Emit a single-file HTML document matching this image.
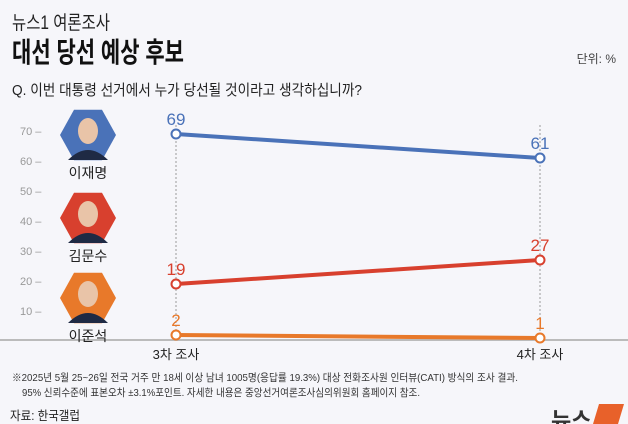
<!DOCTYPE html>
<html><head><meta charset="utf-8"><style>
body{margin:0;width:628px;height:424px;background:#f6f6fa;overflow:hidden;font-family:"Liberation Sans","Noto Sans CJK KR",sans-serif}
svg{display:block}
</style></head><body>
<svg width="628" height="424">
<text x="12" y="29" font-size="19" fill="#222" textLength="98" lengthAdjust="spacingAndGlyphs">뉴스1 여론조사</text>
<text x="12" y="62" font-size="28" font-weight="bold" fill="#111" textLength="172" lengthAdjust="spacingAndGlyphs">대선 당선 예상 후보</text>
<text x="616" y="63" font-size="12" fill="#444" text-anchor="end">단위: %</text>
<text x="12" y="95" font-size="15" fill="#222" textLength="350" lengthAdjust="spacingAndGlyphs">Q. 이번 대통령 선거에서 누가 당선될 것이라고 생각하십니까?</text>
<g id="axis"></g>
<g id="cands"></g>
<g id="plot"></g>
<text x="176" y="359" font-size="13" fill="#222" text-anchor="middle">3차 조사</text>
<text x="540" y="359" font-size="13" fill="#222" text-anchor="middle">4차 조사</text>
<text x="12" y="381" font-size="10.5" fill="#333" textLength="506" lengthAdjust="spacingAndGlyphs">※2025년 5월 25~26일 전국 거주 만 18세 이상 남녀 1005명(응답률 19.3%) 대상 전화조사원 인터뷰(CATI) 방식의 조사 결과.</text>
<text x="22" y="396" font-size="10.5" fill="#333" textLength="398" lengthAdjust="spacingAndGlyphs">95% 신뢰수준에 표본오차 ±3.1%포인트. 자세한 내용은 중앙선거여론조사심의위원회 홈페이지 참조.</text>
<text x="10" y="420" font-size="12.5" fill="#222" textLength="70" lengthAdjust="spacingAndGlyphs">자료: 한국갤럽</text>
<text x="551" y="428" font-size="22" font-weight="bold" fill="#333">뉴스</text>
<path d="M599 404 L624 404 L618 424 L593 424 Z" fill="#e8612a"/>
</svg>
<script>
const categories=["3차 조사","4차 조사"];
const names=["이재명","김문수","이준석"];
const colors=["#4a72b8","#d8402e","#e8792a"];
const series=[[69,61],[19,27],[2,1]];
const ticks=[10,20,30,40,50,60,70];
const NS="http://www.w3.org/2000/svg";
function mk(t,a,p){const e=document.createElementNS(NS,t);for(const k in a)e.setAttribute(k,a[k]);p.appendChild(e);return e;}
const xs=i=>176+i*364, ys=v=>341-v*3;
const ax=document.getElementById('axis'),pl=document.getElementById('plot'),cd=document.getElementById('cands');
ticks.forEach(t=>{const e=mk('text',{x:20,y:ys(t)+4,'font-size':11,fill:'#999'},ax);e.textContent=t+' –';

});
const bl=mk('line',{x1:0,x2:628,y1:340,y2:340,stroke:'#bbb','stroke-width':2},ax);


categories.forEach((c,i)=>{const l=mk('line',{x1:xs(i),x2:xs(i),y1:125,y2:340,stroke:'#999','stroke-dasharray':'2,2'},ax);

});
const cy=[135,218,298];
names.forEach((n,k)=>{const g=mk('g',{},cd);


const x=88,y=cy[k],r=28;
mk('polygon',{points:[[x-r,y],[x-r/2,y-r*0.9],[x+r/2,y-r*0.9],[x+r,y],[x+r/2,y+r*0.9],[x-r/2,y+r*0.9]].map(p=>p.join(',')).join(' '),fill:colors[k]},g);
mk('ellipse',{cx:x,cy:y-4,rx:10,ry:13,fill:'#e9c4a8'},g);
mk('path',{d:`M${x-20} ${y+25} Q${x} ${y+5} ${x+20} ${y+25} Z`,fill:'#1f2a44'},g);
const t=mk('text',{x:x,y:y+43,'font-size':14,'text-anchor':'middle',fill:'#222'},g);t.textContent=n;});
series.forEach((s,k)=>{const g=mk('g',{},pl);


mk('line',{x1:xs(0),y1:ys(s[0]),x2:xs(1),y2:ys(s[1]),stroke:colors[k],'stroke-width':4},g);
s.forEach((v,i)=>{const c=mk('circle',{cx:xs(i),cy:ys(v),r:4.5,fill:'#fff',stroke:colors[k],'stroke-width':2},g);


const t=mk('text',{x:xs(i),y:ys(v)-9,'font-size':17,'text-anchor':'middle',fill:colors[k]},g);t.textContent=v;

});});
</script>
</body></html>
